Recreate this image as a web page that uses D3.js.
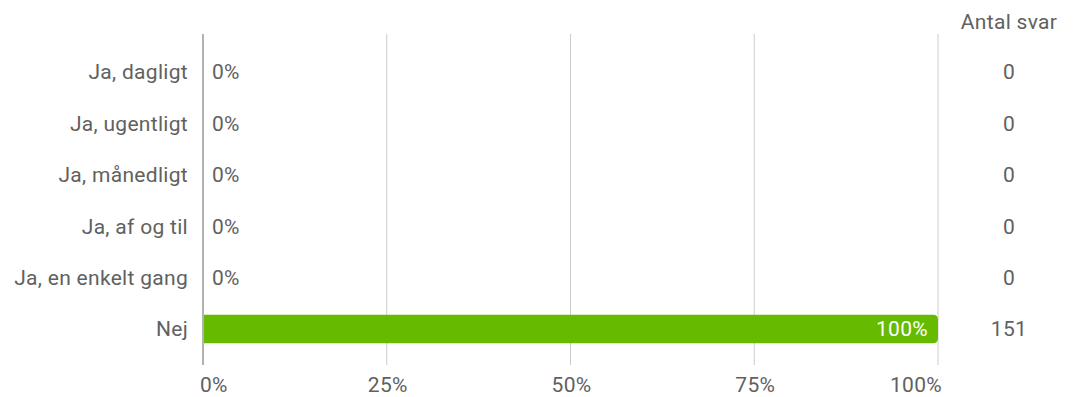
<!DOCTYPE html>
<html><head><meta charset="utf-8">
<script src="https://cdn.jsdelivr.net/npm/d3@7"></script>
<style>body{margin:0;background:#fff}svg{display:block}text{font-family:Roboto,sans-serif;letter-spacing:0.3px}</style>
</head><body><svg id="c" width="1073" height="397"></svg>
<script>
const categories = ["Ja, dagligt","Ja, ugentligt","Ja, månedligt","Ja, af og til","Ja, en enkelt gang","Nej"];
const percents = [0,0,0,0,0,100];
const counts = [0,0,0,0,0,151];
const tickValues = [0,25,50,75,100];
const countHeader = "Antal svar";

const svg = d3.select("#c");
const x = d3.scaleLinear().domain([0,100]).range([203,938]);
const y = d3.scaleBand().domain(categories).range([46.3,354.7]).paddingInner(0.45).paddingOuter(0.225);
const textColor = "#616161";
const fs = 21;

// grid
svg.append("g").selectAll("line").data(tickValues.filter(d=>d>0)).join("line")
  .attr("x1",d=>x(d)).attr("x2",d=>x(d)).attr("y1",34).attr("y2",365)
  .attr("stroke","#cccccc").attr("stroke-width",1);
svg.append("line").attr("x1",x(0)).attr("x2",x(0)).attr("y1",34).attr("y2",365)
  .attr("stroke","#999").attr("stroke-width",1.5);

// x tick labels
const nT = tickValues.length;
svg.append("g").selectAll("text").data(tickValues).join("text")
  .attr("x",(d,i)=> i===0 ? x(d)-3 : (i===nT-1 ? x(d)+4 : x(d)+1))
  .attr("y",392)
  .attr("text-anchor",(d,i)=> i===0 ? "start" : (i===nT-1 ? "end" : "middle"))
  .attr("font-size",fs).attr("fill",textColor).text(d=>d+"%");

// bars
const r = 5;
svg.append("g").selectAll("path").data(categories.map((c,i)=>({c,v:percents[i]})).filter(d=>d.v>0)).join("path")
  .attr("fill","#66bb00")
  .attr("d",d=>{
    const x0=x(0)+1, x1=x(d.v), y0=y(d.c), h=y.bandwidth();
    return `M${x0},${y0}H${x1-r}Q${x1},${y0} ${x1},${y0+r}V${y0+h-r}Q${x1},${y0+h} ${x1-r},${y0+h}H${x0}Z`;
  });

// value labels
categories.forEach((c,i)=>{
  const cy = y(c)+y.bandwidth()/2;
  const v = percents[i];
  if(v>0){
    svg.append("text").attr("x",x(v)-10).attr("y",cy).attr("dy","0.35em").attr("text-anchor","end")
      .attr("font-size",fs).attr("fill","#fff").text(v+"%");
  } else {
    svg.append("text").attr("x",x(0)+9).attr("y",cy).attr("dy","0.35em").attr("text-anchor","start")
      .attr("font-size",fs).attr("fill",textColor).text(v+"%");
  }
  svg.append("text").attr("x",188).attr("y",cy).attr("dy","0.35em").attr("text-anchor","end")
    .attr("font-size",fs).attr("fill",textColor).text(c);
  svg.append("text").attr("x",1009).attr("y",cy).attr("dy","0.35em").attr("text-anchor","middle")
    .attr("font-size",fs).attr("fill",textColor).text(counts[i]);
});
svg.append("text").attr("x",1009).attr("y",29).attr("text-anchor","middle")
  .attr("font-size",fs).attr("fill",textColor).text(countHeader);
</script></body></html>
